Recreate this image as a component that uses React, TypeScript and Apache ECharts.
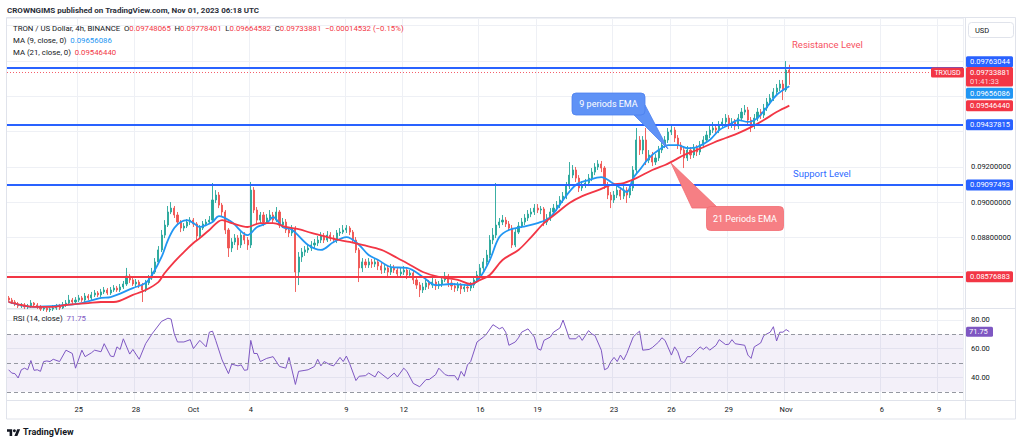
import React, { useEffect, useRef } from "react";
import * as echarts from "echarts";

// ---------------- data ----------------
// 4h candles, first slot 2023-09-21 08:00 UTC
const opens = [
  0.08457,0.08445,0.08434,0.08423,0.08411,0.08417,0.08406,0.08411,0.08428,0.08417,
  0.08406,0.08394,0.08400,0.08389,0.08394,0.08400,0.08406,0.08400,0.08417,0.08428,
  0.08445,0.08434,0.08445,0.08457,0.08445,0.08468,0.08457,0.08474,0.08485,0.08474,
  0.08491,0.08502,0.08485,0.08502,0.08513,0.08502,0.08519,0.08536,0.08581,0.08559,
  0.08536,0.08547,0.08530,0.08502,0.08542,0.08570,0.08604,0.08661,0.08729,0.08813,
  0.08870,0.08944,0.08966,0.08927,0.08887,0.08853,0.08864,0.08887,0.08898,0.08876,
  0.08808,0.08853,0.08876,0.08887,0.08898,0.09012,0.09040,0.08983,0.08944,0.08842,
  0.08740,0.08774,0.08796,0.08757,0.08813,0.08785,0.08757,0.09068,0.08955,0.08898,
  0.08927,0.08887,0.08910,0.08927,0.08898,0.08944,0.08870,0.08887,0.08842,0.08825,
  0.08853,0.08604,0.08689,0.08717,0.08729,0.08740,0.08757,0.08768,0.08785,0.08808,
  0.08785,0.08813,0.08796,0.08785,0.08825,0.08830,0.08842,0.08853,0.08830,0.08785,
  0.08729,0.08627,0.08661,0.08644,0.08661,0.08649,0.08661,0.08638,0.08615,0.08627,
  0.08604,0.08627,0.08615,0.08593,0.08604,0.08615,0.08587,0.08598,0.08559,0.08530,
  0.08502,0.08519,0.08542,0.08530,0.08547,0.08525,0.08536,0.08559,0.08581,0.08542,
  0.08525,0.08513,0.08530,0.08508,0.08519,0.08513,0.08530,0.08559,0.08587,0.08627,
  0.08661,0.08700,0.08785,0.08813,0.08870,0.08887,0.08898,0.08876,0.08853,0.08757,
  0.08830,0.08864,0.08887,0.08910,0.08932,0.08944,0.08966,0.08955,0.08961,0.08887,
  0.08910,0.08944,0.08966,0.08983,0.09012,0.09034,0.09091,0.09153,0.09182,0.09136,
  0.09080,0.09097,0.09108,0.09136,0.09170,0.09199,0.09216,0.09193,0.09097,0.09040,
  0.09012,0.09040,0.09068,0.09034,0.09068,0.09040,0.09080,0.09182,0.09352,0.09295,
  0.09352,0.09238,0.09267,0.09227,0.09250,0.09295,0.09323,0.09352,0.09397,0.09408,
  0.09363,0.09323,0.09295,0.09250,0.09295,0.09267,0.09306,0.09284,0.09323,0.09352,
  0.09380,0.09408,0.09420,0.09408,0.09437,0.09454,0.09476,0.09437,0.09454,0.09431,
  0.09476,0.09510,0.09522,0.09465,0.09431,0.09476,0.09510,0.09493,0.09533,0.09567,
  0.09590,0.09624,0.09646,0.09669,0.09635,0.09748065,
];
const closes = [
  0.08445,0.08434,0.08423,0.08411,0.08417,0.08406,0.08411,0.08428,0.08417,0.08406,
  0.08394,0.08400,0.08389,0.08394,0.08400,0.08406,0.08400,0.08417,0.08428,0.08445,
  0.08434,0.08445,0.08457,0.08445,0.08468,0.08457,0.08474,0.08485,0.08474,0.08491,
  0.08502,0.08485,0.08502,0.08513,0.08502,0.08519,0.08536,0.08581,0.08559,0.08536,
  0.08547,0.08530,0.08502,0.08542,0.08570,0.08604,0.08661,0.08729,0.08813,0.08870,
  0.08944,0.08966,0.08927,0.08887,0.08853,0.08864,0.08887,0.08898,0.08876,0.08808,
  0.08853,0.08876,0.08887,0.08898,0.09012,0.09040,0.08983,0.08944,0.08842,0.08740,
  0.08774,0.08796,0.08757,0.08813,0.08785,0.08757,0.09068,0.08955,0.08898,0.08927,
  0.08887,0.08910,0.08927,0.08898,0.08944,0.08870,0.08887,0.08842,0.08825,0.08853,
  0.08604,0.08689,0.08717,0.08729,0.08740,0.08757,0.08768,0.08785,0.08808,0.08785,
  0.08813,0.08796,0.08785,0.08825,0.08830,0.08842,0.08853,0.08830,0.08785,0.08729,
  0.08627,0.08661,0.08644,0.08661,0.08649,0.08661,0.08638,0.08615,0.08627,0.08604,
  0.08627,0.08615,0.08593,0.08604,0.08615,0.08587,0.08598,0.08559,0.08530,0.08502,
  0.08519,0.08542,0.08530,0.08547,0.08525,0.08536,0.08559,0.08581,0.08542,0.08525,
  0.08513,0.08530,0.08508,0.08519,0.08513,0.08530,0.08559,0.08587,0.08627,0.08661,
  0.08700,0.08785,0.08813,0.08870,0.08887,0.08898,0.08876,0.08853,0.08757,0.08830,
  0.08864,0.08887,0.08910,0.08932,0.08944,0.08966,0.08955,0.08961,0.08887,0.08910,
  0.08944,0.08966,0.08983,0.09012,0.09034,0.09091,0.09153,0.09182,0.09136,0.09080,
  0.09097,0.09108,0.09136,0.09170,0.09199,0.09216,0.09193,0.09097,0.09040,0.09012,
  0.09040,0.09068,0.09034,0.09068,0.09040,0.09080,0.09182,0.09352,0.09295,0.09352,
  0.09238,0.09267,0.09227,0.09250,0.09295,0.09323,0.09352,0.09397,0.09408,0.09363,
  0.09323,0.09295,0.09250,0.09295,0.09267,0.09306,0.09284,0.09323,0.09352,0.09380,
  0.09408,0.09420,0.09408,0.09437,0.09454,0.09476,0.09437,0.09454,0.09431,0.09476,
  0.09510,0.09522,0.09465,0.09431,0.09476,0.09510,0.09493,0.09533,0.09567,0.09590,
  0.09624,0.09646,0.09669,0.09635,0.09748413,0.09733881,
];
const highs = [
  0.08468,0.08457,0.08445,0.08434,0.08428,0.08428,0.08423,0.08445,0.08434,0.08428,
  0.08417,0.08411,0.08411,0.08406,0.08417,0.08423,0.08423,0.08434,0.08445,0.08474,
  0.08457,0.08462,0.08474,0.08468,0.08485,0.08479,0.08491,0.08502,0.08496,0.08508,
  0.08519,0.08513,0.08519,0.08530,0.08525,0.08536,0.08553,0.08627,0.08593,0.08570,
  0.08564,0.08559,0.08542,0.08559,0.08587,0.08627,0.08683,0.08751,0.08842,0.08898,
  0.08978,0.09000,0.08978,0.08944,0.08898,0.08881,0.08904,0.08915,0.08910,0.08887,
  0.08870,0.08893,0.08904,0.08921,0.09108,0.09068,0.09057,0.08995,0.08955,0.08853,
  0.08796,0.08819,0.08813,0.08830,0.08830,0.08802,0.09114,0.09085,0.08972,0.08944,
  0.08944,0.08932,0.08955,0.08944,0.08972,0.08955,0.08910,0.08904,0.08859,0.08870,
  0.08864,0.08717,0.08740,0.08751,0.08762,0.08779,0.08791,0.08808,0.08830,0.08825,
  0.08836,0.08830,0.08813,0.08842,0.08853,0.08870,0.08870,0.08864,0.08842,0.08802,
  0.08740,0.08683,0.08678,0.08683,0.08678,0.08683,0.08678,0.08655,0.08649,0.08644,
  0.08649,0.08644,0.08632,0.08627,0.08638,0.08632,0.08615,0.08615,0.08576,0.08547,
  0.08542,0.08559,0.08559,0.08570,0.08564,0.08553,0.08581,0.08604,0.08593,0.08559,
  0.08542,0.08547,0.08542,0.08536,0.08536,0.08547,0.08576,0.08610,0.08649,0.08683,
  0.08729,0.08813,0.08853,0.09108,0.08910,0.08927,0.08915,0.08893,0.08870,0.08847,
  0.08887,0.08910,0.08932,0.08955,0.08966,0.08989,0.08989,0.08978,0.08972,0.08932,
  0.08966,0.08989,0.09006,0.09034,0.09057,0.09114,0.09227,0.09210,0.09199,0.09153,
  0.09119,0.09131,0.09159,0.09193,0.09221,0.09238,0.09233,0.09204,0.09114,0.09057,
  0.09063,0.09091,0.09085,0.09091,0.09085,0.09102,0.09204,0.09420,0.09374,0.09374,
  0.09420,0.09295,0.09284,0.09272,0.09318,0.09352,0.09374,0.09420,0.09437,0.09425,
  0.09380,0.09340,0.09312,0.09318,0.09312,0.09329,0.09323,0.09346,0.09374,0.09403,
  0.09431,0.09454,0.09437,0.09459,0.09476,0.09499,0.09493,0.09476,0.09471,0.09499,
  0.09533,0.09550,0.09539,0.09482,0.09499,0.09533,0.09527,0.09556,0.09590,0.09612,
  0.09646,0.09669,0.09692,0.09692,0.09799,0.09778401,
];
const lows = [
  0.08434,0.08423,0.08411,0.08400,0.08400,0.08394,0.08394,0.08400,0.08406,0.08394,
  0.08383,0.08383,0.08377,0.08377,0.08383,0.08389,0.08389,0.08394,0.08406,0.08417,
  0.08417,0.08423,0.08434,0.08434,0.08434,0.08445,0.08445,0.08462,0.08462,0.08462,
  0.08479,0.08474,0.08474,0.08491,0.08491,0.08491,0.08508,0.08525,0.08542,0.08525,
  0.08519,0.08513,0.08434,0.08491,0.08530,0.08559,0.08593,0.08649,0.08717,0.08796,
  0.08859,0.08932,0.08910,0.08870,0.08830,0.08836,0.08853,0.08870,0.08859,0.08785,
  0.08796,0.08842,0.08864,0.08876,0.08887,0.08995,0.08966,0.08921,0.08819,0.08689,
  0.08717,0.08757,0.08729,0.08740,0.08762,0.08729,0.08740,0.08938,0.08876,0.08881,
  0.08864,0.08876,0.08898,0.08876,0.08887,0.08853,0.08853,0.08825,0.08802,0.08808,
  0.08491,0.08530,0.08661,0.08695,0.08712,0.08723,0.08740,0.08751,0.08768,0.08768,
  0.08774,0.08779,0.08768,0.08768,0.08808,0.08819,0.08825,0.08813,0.08768,0.08712,
  0.08547,0.08604,0.08627,0.08627,0.08627,0.08632,0.08615,0.08593,0.08598,0.08581,
  0.08587,0.08598,0.08570,0.08576,0.08587,0.08564,0.08570,0.08536,0.08508,0.08462,
  0.08485,0.08502,0.08508,0.08513,0.08502,0.08508,0.08519,0.08547,0.08519,0.08502,
  0.08491,0.08496,0.08479,0.08491,0.08491,0.08496,0.08513,0.08542,0.08570,0.08610,
  0.08644,0.08683,0.08762,0.08796,0.08853,0.08870,0.08859,0.08836,0.08740,0.08745,
  0.08819,0.08853,0.08870,0.08893,0.08915,0.08927,0.08938,0.08932,0.08864,0.08870,
  0.08893,0.08927,0.08949,0.08966,0.08995,0.09017,0.09074,0.09136,0.09114,0.09057,
  0.09063,0.09080,0.09091,0.09119,0.09153,0.09182,0.09170,0.09074,0.09017,0.08966,
  0.08995,0.09023,0.09012,0.09017,0.08995,0.09023,0.09063,0.09165,0.09267,0.09272,
  0.09210,0.09221,0.09204,0.09210,0.09233,0.09278,0.09306,0.09335,0.09380,0.09340,
  0.09301,0.09272,0.09193,0.09233,0.09244,0.09250,0.09261,0.09267,0.09306,0.09335,
  0.09363,0.09391,0.09386,0.09391,0.09420,0.09437,0.09414,0.09420,0.09408,0.09414,
  0.09459,0.09493,0.09442,0.09397,0.09414,0.09459,0.09471,0.09476,0.09516,0.09550,
  0.09573,0.09607,0.09629,0.09578,0.09624,0.09664582,
];

// moving averages, read at points along the lines: [slot index, value]
const ma9Points = [
  [0,0.08434],[8,0.08406],[18,0.08417],[23,0.08428],[29,0.08457],[32,0.08462],[39,0.08513],
  [43,0.08542],[45,0.08587],[48,0.08689],[50,0.08785],[52,0.08853],[54,0.08887],[56,0.08898],
  [58,0.08881],[60,0.08859],[62,0.08870],[64,0.08887],[66,0.08921],[70,0.08887],[75,0.08813],
  [78,0.08859],[81,0.08881],[83,0.08915],[86,0.08859],[89,0.08842],[94,0.08757],[98,0.08729],
  [102,0.08774],[106,0.08802],[110,0.08757],[113,0.08700],[116,0.08672],[120,0.08632],
  [125,0.08627],[130,0.08576],[134,0.08530],[139,0.08536],[145,0.08530],[148,0.08576],
  [151,0.08672],[154,0.08802],[157,0.08842],[161,0.08859],[166,0.08881],[170,0.08915],
  [174,0.09012],[178,0.09097],[182,0.09125],[186,0.09142],[189,0.09114],[192,0.09080],
  [194,0.09057],[196,0.09136],[198,0.09182],[201,0.09250],[204,0.09295],[207,0.09323],
  [210,0.09323],[213,0.09306],[216,0.09312],[220,0.09352],[223,0.09408],[226,0.09437],
  [229,0.09465],[232,0.09454],[235,0.09476],[238,0.09539],[241,0.09607],[245,0.09656086],
];
const ma21Points = [
  [0,0.08434],[4,0.08417],[8,0.08406],[14,0.08406],[18,0.08417],[25,0.08428],[29,0.08434],
  [33,0.08434],[39,0.08474],[43,0.08502],[47,0.08547],[49,0.08598],[52,0.08661],[55,0.08717],
  [58,0.08768],[60,0.08796],[63,0.08842],[67,0.08898],[70,0.08881],[75,0.08859],[79,0.08881],
  [83,0.08881],[87,0.08859],[91,0.08847],[95,0.08825],[100,0.08802],[104,0.08785],
  [107,0.08774],[111,0.08757],[117,0.08729],[122,0.08683],[126,0.08644],[130,0.08604],
  [135,0.08576],[141,0.08559],[145,0.08536],[148,0.08559],[151,0.08587],[155,0.08672],
  [160,0.08729],[164,0.08802],[168,0.08881],[172,0.08938],[176,0.08995],[180,0.09034],
  [185,0.09068],[189,0.09097],[193,0.09108],[197,0.09136],[202,0.09182],[206,0.09210],
  [209,0.09238],[212,0.09267],[216,0.09295],[221,0.09335],[225,0.09363],[229,0.09391],
  [233,0.09425],[237,0.09465],[241,0.09510],[245,0.0954644],
];
// RSI(14), read at points: [slot index, value]
const rsiPoints = [
  [0,45.3],[1,43.0],[2,42.6],[3,39.6],[4,45.3],[5,46.4],[6,45.3],[7,51.7],[8,44.9],[9,45.3],
  [10,44.2],[11,51.0],[12,51.4],[13,51.0],[14,52.6],[16,51.0],[18,58.9],[20,56.6],[21,46.4],
  [23,58.9],[24,54.4],[26,57.1],[27,58.9],[29,57.8],[30,63.4],[32,54.8],[33,54.4],[34,61.2],
  [35,59.4],[36,66.8],[38,56.2],[39,59.4],[41,52.6],[43,63.4],[45,70.2],[48,78.9],[50,81.1],
  [51,80.5],[52,70.2],[53,64.6],[55,64.6],[57,66.2],[58,60.0],[60,65.7],[62,61.2],[63,71.4],
  [64,72.1],[65,65.7],[67,52.1],[69,42.6],[70,49.2],[72,48.0],[73,48.7],[74,44.9],[75,45.3],
  [76,65.7],[77,56.6],[78,56.6],[79,51.0],[81,53.2],[83,54.4],[85,47.6],[87,46.4],[88,53.9],
  [90,35.1],[91,44.2],[93,44.9],[94,45.3],[96,47.6],[97,52.6],[98,48.0],[99,51.0],[101,48.7],
  [102,48.0],[104,53.9],[105,51.0],[106,54.8],[107,49.8],[109,37.8],[110,40.8],[112,41.2],
  [113,43.0],[115,40.3],[116,44.2],[119,39.0],[121,43.0],[122,40.3],[124,46.4],[125,44.2],
  [127,35.8],[129,33.5],[131,38.5],[132,38.5],[134,41.9],[135,46.4],[137,41.9],[138,41.2],
  [140,41.2],[141,38.0],[142,44.2],[143,40.8],[144,48.7],[145,51.0],[147,64.6],[149,68.0],
  [150,70.2],[152,76.6],[153,75.2],[154,73.7],[155,74.8],[156,71.4],[157,62.3],[159,64.6],
  [160,67.5],[161,71.4],[163,73.7],[165,68.0],[166,60.0],[167,58.9],[168,65.7],[170,68.0],
  [171,71.4],[173,74.3],[174,79.8],[176,66.8],[178,66.8],[179,69.1],[180,65.7],[182,72.5],
  [183,70.2],[184,69.1],[186,58.9],[187,45.3],[188,46.4],[189,51.0],[190,53.9],[191,51.0],
  [192,55.5],[193,52.1],[194,56.6],[196,68.0],[197,70.2],[198,72.1],[199,58.9],[201,59.4],
  [202,60.7],[204,64.6],[205,67.5],[206,65.7],[208,55.5],[209,61.2],[210,57.8],[211,51.0],
  [212,50.3],[213,54.4],[214,54.4],[216,58.9],[217,61.2],[218,59.4],[219,61.2],[220,58.9],
  [222,62.3],[223,66.2],[225,62.8],[226,63.0],[227,66.2],[228,63.4],[231,62.3],[232,55.5],
  [233,53.2],[234,61.2],[236,63.9],[237,69.1],[239,71.4],[240,75.2],[241,65.3],[242,71.4],
  [243,71.4],[244,73.2],[245,71.75],
];

const blueLevels = [0.09763044, 0.09437815, 0.09097493];
const redLevels = [0.08576883];
const rsiBands = [70, 50, 30];
const priceTicks = { min: 0.084, max: 0.100431, step: 0.002 };
const priceLabelsShown = [0.088, 0.09, 0.092];
const rsiRange = { min: 24.3, max: 87.5 };
const tickDates = [
  "2023-09-25", "2023-09-28", "2023-10-01", "2023-10-04", "2023-10-09", "2023-10-12", "2023-10-16",
  "2023-10-19", "2023-10-23", "2023-10-26", "2023-10-29", "2023-11-01", "2023-11-06", "2023-11-09",
];
const monthNames = ["Jan","Feb","Mar","Apr","May","Jun","Jul","Aug","Sep","Oct","Nov","Dec"];

// ---------------- category slots ----------------
const SLOT_COUNT = 300;
const FIRST_SLOT = Date.UTC(2023, 8, 21, 8);
const pad = (n: number) => String(n).padStart(2, "0");
const categories = Array.from({ length: SLOT_COUNT }, (_, i) => {
  const d = new Date(FIRST_SLOT + i * 4 * 3600 * 1000);
  return `${d.getUTCFullYear()}-${pad(d.getUTCMonth() + 1)}-${pad(d.getUTCDate())} ${pad(d.getUTCHours())}:00`;
});
const tickSet = new Set(tickDates.map((d) => d + " 00:00"));

const FONT = 'Roboto, "Liberation Sans", Arial, sans-serif';
const TXT = "#131722";
const UP = "#26a69a";
const DOWN = "#ef5350";
const BLUE = "#2962ff";
const RED = "#f23645";
const GRID = "#eef0f5";

export default function App() {
  const ref = useRef<HTMLDivElement>(null);

  useEffect(() => {
    if (!ref.current) return;
    const chart = echarts.init(ref.current, null, { renderer: "svg" });
    const last = closes.length - 1;
    const candleData = closes.map((c, i) => [opens[i], c, lows[i], highs[i]]);
    const tickInterval = (_: number, v: string) => tickSet.has(v);

    const option: any = {
      animation: false,
      backgroundColor: "#ffffff",
      textStyle: { fontFamily: FONT },
      grid: [
        { left: 7, top: 18, width: 956, height: 290 },
        { left: 7, top: 309, width: 956, height: 91 },
      ],
      xAxis: [
        {
          type: "category", gridIndex: 0, data: categories, boundaryGap: true,
          axisLine: { show: false }, axisTick: { show: false }, axisLabel: { show: false },
          splitLine: { show: true, interval: tickInterval, lineStyle: { color: GRID, width: 1 } },
        },
        {
          type: "category", gridIndex: 1, data: categories, boundaryGap: true,
          axisLine: { show: false }, axisTick: { show: false },
          axisLabel: {
            show: true, interval: tickInterval, margin: 5, fontSize: 7.5, color: TXT, fontFamily: FONT,
            formatter: (v: string) => {
              const day = +v.slice(8, 10);
              return day === 1 ? monthNames[+v.slice(5, 7) - 1] : String(day);
            },
          },
          splitLine: { show: true, interval: tickInterval, lineStyle: { color: GRID, width: 1 } },
        },
      ],
      yAxis: [
        {
          type: "value", gridIndex: 0, position: "right", scale: true,
          min: priceTicks.min, max: priceTicks.max, interval: priceTicks.step,
          axisLine: { show: false }, axisTick: { show: false },
          axisLabel: {
            margin: 8, fontSize: 7.5, color: TXT, fontFamily: FONT,
            formatter: (v: number) =>
              priceLabelsShown.some((p) => Math.abs(p - v) < 1e-7) ? v.toFixed(8) : "",
          },
          splitLine: { lineStyle: { color: GRID, width: 1 } },
        },
        {
          type: "value", gridIndex: 1, position: "right",
          min: rsiRange.min, max: rsiRange.max, splitNumber: 3,
          axisLine: { show: false }, axisTick: { show: false },
          axisLabel: {
            margin: 8, fontSize: 7.5, color: TXT, fontFamily: FONT,
            formatter: (v: number) => (v % 20 === 0 ? v.toFixed(2) : ""),
          },
          splitLine: { lineStyle: { color: GRID, width: 1 } },
        },
      ],
      series: [
        {
          type: "candlestick", name: "TRXUSD", xAxisIndex: 0, yAxisIndex: 0,
          data: candleData, barWidth: 1.6, clip: true,
          itemStyle: { color: UP, color0: DOWN, borderColor: UP, borderColor0: DOWN, borderWidth: 0.9 },
        },
        {
          type: "line", name: "MA 9", xAxisIndex: 0, yAxisIndex: 0, data: ma9Points,
          smooth: 0.35, showSymbol: false, symbol: "none",
          lineStyle: { color: "#2196f3", width: 1.8 }, z: 3,
          markLine: {
            silent: true, symbol: "none", label: { show: false }, precision: 10,
            data: [
              ...blueLevels.map((v) => ({ yAxis: v, lineStyle: { color: BLUE, width: 2, type: "solid" } })),
              ...redLevels.map((v) => ({ yAxis: v, lineStyle: { color: RED, width: 2, type: "solid" } })),
              { yAxis: closes[last], lineStyle: { color: RED, width: 1, type: [1, 2], opacity: 0.8 } },
            ],
          },
        },
        {
          type: "line", name: "MA 21", xAxisIndex: 0, yAxisIndex: 0, data: ma21Points,
          smooth: 0.35, showSymbol: false, symbol: "none",
          lineStyle: { color: RED, width: 1.8 }, z: 3,
        },
        {
          type: "line", name: "RSI", xAxisIndex: 1, yAxisIndex: 1, data: rsiPoints,
          showSymbol: false, symbol: "none", lineStyle: { color: "#7e57c2", width: 1 },
          markArea: {
            silent: true,
            itemStyle: { color: "rgba(126,87,194,0.09)" },
            data: [[{ yAxis: rsiBands[2] }, { yAxis: rsiBands[0] }]],
          },
          markLine: {
            silent: true, symbol: "none", label: { show: false }, precision: 4,
            lineStyle: { color: "#9598a1", width: 1, type: [4, 3] },
            data: rsiBands.map((v) => ({ yAxis: v })),
          },
        },
      ],
    };
    chart.setOption(option);

    const py = (v: number) => chart.convertToPixel({ yAxisIndex: 0 }, v) as number;
    const ry = (v: number) => chart.convertToPixel({ yAxisIndex: 1 }, v) as number;
    const f8 = (v: number) => v.toFixed(8);
    const chg = closes[last] - closes[last - 1];
    const pct = (chg / closes[last - 1]) * 100;
    const signed = (v: number, d: number) => (v < 0 ? "\u2212" : "+") + Math.abs(v).toFixed(d);
    const ma9Last = ma9Points[ma9Points.length - 1][1];
    const ma21Last = ma21Points[ma21Points.length - 1][1];
    const rsiLast = rsiPoints[rsiPoints.length - 1][1];

    const txt = (x: number, y: number, text: string, extra: any = {}, z = 30) => ({
      type: "text", x, y, z, silent: true,
      style: { text, fontSize: 7.5, fontFamily: FONT, fill: TXT, verticalAlign: "middle", ...extra },
    });

    const badgeX = 966;
    const badgeW = 47;
    const badge = (v: number, color: string, dy = 0, sub?: string) => {
      const cy = py(v) + dy;
      const h = sub ? 19.5 : 11;
      const out: any[] = [
        { type: "rect", z: 40, silent: true, shape: { x: badgeX, y: cy - 5.5, width: badgeW, height: h, r: 1.5 }, style: { fill: color } },
        txt(badgeX + 4, cy, f8(v), { fill: "#ffffff" }, 41),
      ];
      if (sub) out.push(txt(badgeX + 4, cy + 9.3, sub, { fill: "rgba(255,255,255,0.8)" }, 41));
      return out;
    };

    const rsiY = ry(rsiLast);
    const graphic: any[] = [
      // frame & pane separators
      { type: "rect", z: 1, silent: true, shape: { x: 6.5, y: 17.5, width: 1009, height: 401.5 }, style: { fill: "none", stroke: "#e0e3eb", lineWidth: 1 } },
      { type: "line", z: 1, silent: true, shape: { x1: 965.5, y1: 17.5, x2: 965.5, y2: 419 }, style: { stroke: "#e0e3eb", lineWidth: 1 } },
      { type: "line", z: 1, silent: true, shape: { x1: 6.5, y1: 308.5, x2: 1015.5, y2: 308.5 }, style: { stroke: "#e0e3eb", lineWidth: 1 } },
      { type: "line", z: 1, silent: true, shape: { x1: 6.5, y1: 400.5, x2: 1015.5, y2: 400.5 }, style: { stroke: "#e0e3eb", lineWidth: 1 } },
      // header
      txt(7, 10, "CROWNGIMS published on TradingView.com, Nov 01, 2023 06:18 UTC", { fontSize: 8, fontWeight: "bold", fill: "#2a2e39" }),
      // USD box
      { type: "rect", z: 30, silent: true, shape: { x: 968.5, y: 22.5, width: 45, height: 15, r: 3 }, style: { fill: "#ffffff", stroke: "#e0e3eb", lineWidth: 1 } },
      txt(975, 30, "USD"),
      // legends
      txt(13, 28.5,
        `{d|TRON / US Dollar, 4h, BINANCE}  {d|O}{r|${f8(opens[last])}}  {d|H}{r|${f8(highs[last])}}  {d|L}{r|${f8(lows[last])}}  {d|C}{r|${f8(closes[last])}}  {r|${signed(chg, 8)} (${signed(pct, 2)}%)}`,
        { rich: { d: { fill: TXT, fontSize: 7.8, fontFamily: FONT }, r: { fill: RED, fontSize: 7.8, fontFamily: FONT } } }),
      txt(13, 40.5, `{d|MA (9, close, 0)}  {b|${f8(ma9Last)}}`,
        { rich: { d: { fill: TXT, fontSize: 7.8, fontFamily: FONT }, b: { fill: "#2196f3", fontSize: 7.8, fontFamily: FONT } } }),
      txt(13, 52, `{d|MA (21, close, 0)}  {r|${f8(ma21Last)}}`,
        { rich: { d: { fill: TXT, fontSize: 7.8, fontFamily: FONT }, r: { fill: RED, fontSize: 7.8, fontFamily: FONT } } }),
      txt(13, 318.5, `{d|RSI (14, close)}  {p|${rsiLast.toFixed(2)}}`,
        { rich: { d: { fill: TXT, fontSize: 7.8, fontFamily: FONT }, p: { fill: "#7e57c2", fontSize: 7.8, fontFamily: FONT } } }),
      // level labels
      txt(792, 44.5, "Resistance Level", { fontSize: 9.5, fill: "#f7525f" }),
      txt(793, 173.5, "Support Level", { fontSize: 9.5, fill: "#2f6bff" }),
      // 9 periods EMA callout
      { type: "polygon", z: 35, silent: true, shape: { points: [[633, 114], [645, 105], [668, 149]] }, style: { fill: "#5f92f6", stroke: "#4b80f0", lineWidth: 0.8 } },
      { type: "rect", z: 35, silent: true, shape: { x: 572, y: 93, width: 73, height: 22, r: 4 }, style: { fill: "#5f92f6", stroke: "#4b80f0", lineWidth: 0.8 } },
      txt(608.5, 104, "9 periods EMA", { fontSize: 9, fill: "#ffffff", align: "center" }, 36),
      // 21 Periods EMA callout
      { type: "polygon", z: 35, silent: true, shape: { points: [[671, 163], [692, 208], [718, 208]] }, style: { fill: "#f67f84", stroke: "#f26b72", lineWidth: 0.8 } },
      { type: "rect", z: 35, silent: true, shape: { x: 706.5, y: 206.5, width: 77, height: 24, r: 4 }, style: { fill: "#f67f84", stroke: "#f26b72", lineWidth: 0.8 } },
      txt(745, 218.5, "21 Periods EMA", { fontSize: 9, fill: "#ffffff", align: "center" }, 36),
      // price badges
      ...badge(blueLevels[1], BLUE),
      ...badge(blueLevels[2], BLUE),
      ...badge(redLevels[0], RED),
      ...badge(ma21Last, RED, 0),
      ...badge(ma9Last, "#2196f3", 7),
      ...badge(blueLevels[0], BLUE, -5.7),
      ...badge(closes[last], RED, 0, "01:41:33"),
      // symbol tag on the price line
      { type: "rect", z: 40, silent: true, shape: { x: 931, y: py(closes[last]) - 5, width: 33, height: 10, r: 1.5 }, style: { fill: RED } },
      txt(947.5, py(closes[last]), "TRXUSD", { fill: "#ffffff", fontSize: 7, align: "center" }, 41),
      // RSI badge
      { type: "rect", z: 40, silent: true, shape: { x: 966, y: rsiY - 5, width: 27, height: 10, r: 1.5 }, style: { fill: "#7e57c2" } },
      txt(969, rsiY, rsiLast.toFixed(2), { fill: "#ffffff" }, 41),
      // TradingView logo
      { type: "tvlogo", z: 30, silent: true, x: 7, y: 427.8, scaleX: 0.37, scaleY: 0.37, style: { fill: "#131722" } },
      { type: "circle", z: 30, silent: true, shape: { cx: 7 + 20 * 0.37, cy: 427.8 + 8 * 0.37, r: 4 * 0.37 }, style: { fill: "#131722" } },
      txt(23, 431.5, "TradingView", { fontSize: 9, fill: "#131722", fontWeight: "bold" }),
    ];
    chart.setOption({ graphic });

    return () => chart.dispose();
  }, []);

  return (
    <div
      ref={ref}
      style={{ position: "absolute", left: 0, top: 0, width: 1024, height: 443, background: "#ffffff" }}
    />
  );
}

echarts.graphic.registerShape(
  "tvlogo",
  echarts.graphic.extendPath("M14 22H7V11H0V4h14v18zM28 22h-8l7.5-18h8L28 22z", {}) as any
);
